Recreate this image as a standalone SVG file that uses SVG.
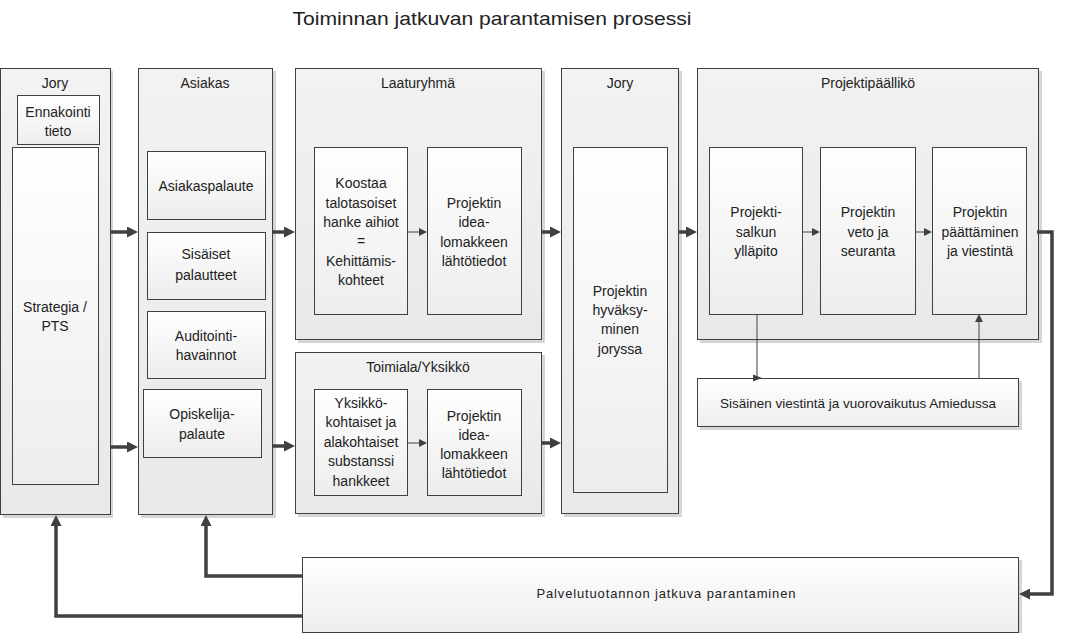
<svg xmlns="http://www.w3.org/2000/svg" width="1065" height="633" viewBox="0 0 1065 633">
<defs>
<linearGradient id="gBox" x1="0" y1="0" x2="0" y2="1">
<stop offset="0" stop-color="#ffffff"/>
<stop offset="1" stop-color="#ededed"/>
</linearGradient>
<linearGradient id="gLane" x1="0" y1="0" x2="0" y2="1">
<stop offset="0" stop-color="#f2f2f2"/>
<stop offset="1" stop-color="#e9e9e9"/>
</linearGradient>
<marker id="mThick" markerUnits="userSpaceOnUse" markerWidth="11" markerHeight="11" refX="0" refY="5.5" orient="auto" viewBox="0 0 11 11">
<path d="M0,0 L11,5.5 L0,11 z" fill="#404040"/>
</marker>
<marker id="mThin" markerUnits="userSpaceOnUse" markerWidth="8" markerHeight="8" refX="0" refY="4" orient="auto" viewBox="0 0 8 8">
<path d="M0,0 L8,4 L0,8 z" fill="#404040"/>
</marker>
</defs>
<style>
.lane{fill:url(#gLane);stroke:#404040;stroke-width:1}
.box{fill:url(#gBox);stroke:#404040;stroke-width:1}
.sh{fill:#d6d6d6}
text{font-family:"Liberation Sans",Arial,sans-serif;font-size:14px;fill:#222;text-anchor:middle}
.title{font-size:19px}
.thick{fill:none;stroke:#404040;stroke-width:3.5}
.thin{fill:none;stroke:#404040;stroke-width:1}
</style>
<rect width="1065" height="633" fill="#ffffff"/>
<text class="title" x="492" y="25" textLength="399" lengthAdjust="spacingAndGlyphs">Toiminnan jatkuvan parantamisen prosessi</text>

<g id="lane-jory1">
<rect class="sh" x="3" y="71" width="110" height="447"/>
<rect class="lane" x="0.5" y="68.5" width="110" height="446"/>
<text x="55" y="88">Jory</text>
</g>
<g id="ennakointi">
<rect class="box" x="17.5" y="95.5" width="82" height="49"/>
<text x="58" y="117">Ennakointi</text>
<text x="58" y="136">tieto</text>
</g>
<g id="strategia">
<rect class="box" x="12.5" y="147.5" width="86" height="337"/>
<text x="55" y="312">Strategia /</text>
<text x="55" y="331">PTS</text>
</g>

<g id="lane-asiakas">
<rect class="sh" x="141" y="71" width="135" height="447"/>
<rect class="lane" x="138.5" y="68.5" width="134" height="446"/>
<text x="205" y="88">Asiakas</text>
</g>
<g id="asiakaspalaute">
<rect class="box" x="147.5" y="151.5" width="118" height="68"/>
<text x="206" y="191">Asiakaspalaute</text>
</g>
<g id="sisaiset">
<rect class="box" x="147.5" y="232.5" width="118" height="67"/>
<text x="206" y="259">Sisäiset</text>
<text x="206" y="280">palautteet</text>
</g>
<g id="auditointi">
<rect class="box" x="147.5" y="311.5" width="118" height="67"/>
<text x="206" y="341">Auditointi-</text>
<text x="206" y="360">havainnot</text>
</g>
<g id="opiskelija">
<rect class="box" x="143.5" y="389.5" width="118" height="68"/>
<text x="202" y="419">Opiskelija-</text>
<text x="202" y="439">palaute</text>
</g>

<g id="lane-laaturyhma">
<rect class="sh" x="298" y="71" width="247" height="272"/>
<rect class="lane" x="295.5" y="68.5" width="246" height="271"/>
<text x="418" y="88">Laaturyhmä</text>
</g>
<g id="koostaa">
<rect class="box" x="314.5" y="147.5" width="93" height="167"/>
<text x="361" y="188">Koostaa</text>
<text x="361" y="208">talotasoiset</text>
<text x="361" y="227">hanke aihiot</text>
<text x="361" y="246">=</text>
<text x="361" y="266">Kehittämis-</text>
<text x="361" y="285">kohteet</text>
</g>
<g id="idea1">
<rect class="box" x="427.5" y="147.5" width="94" height="167"/>
<text x="474" y="208">Projektin</text>
<text x="474" y="227">idea-</text>
<text x="474" y="247">lomakkeen</text>
<text x="474" y="266">lähtötiedot</text>
</g>

<g id="lane-toimiala">
<rect class="sh" x="298" y="355" width="247" height="162"/>
<rect class="lane" x="295.5" y="352.5" width="246" height="161"/>
<text x="418" y="372">Toimiala/Yksikkö</text>
</g>
<g id="yksikko">
<rect class="box" x="314.5" y="389.5" width="93" height="106"/>
<text x="361" y="408">Yksikkö-</text>
<text x="361" y="427">kohtaiset ja</text>
<text x="361" y="447">alakohtaiset</text>
<text x="361" y="466">substanssi</text>
<text x="361" y="486">hankkeet</text>
</g>
<g id="idea2">
<rect class="box" x="427.5" y="389.5" width="94" height="106"/>
<text x="474" y="421">Projektin</text>
<text x="474" y="440">idea-</text>
<text x="474" y="459">lomakkeen</text>
<text x="474" y="478">lähtötiedot</text>
</g>

<g id="lane-jory2">
<rect class="sh" x="564" y="71" width="118" height="446"/>
<rect class="lane" x="561.5" y="68.5" width="117" height="445"/>
<text x="620" y="88">Jory</text>
</g>
<g id="hyvaksyminen">
<rect class="box" x="573.5" y="147.5" width="94" height="345"/>
<text x="620" y="296">Projektin</text>
<text x="620" y="315">hyväksy-</text>
<text x="620" y="334">minen</text>
<text x="620" y="354">joryssa</text>
</g>

<g id="lane-projektipaallikko">
<rect class="sh" x="700" y="71" width="342" height="272"/>
<rect class="lane" x="697.5" y="68.5" width="341" height="271"/>
<text x="868" y="88">Projektipäällikö</text>
</g>
<g id="salkku">
<rect class="box" x="709.5" y="147.5" width="93" height="167"/>
<text x="756" y="217">Projekti-</text>
<text x="756" y="237">salkun</text>
<text x="756" y="256">ylläpito</text>
</g>
<g id="veto">
<rect class="box" x="820.5" y="147.5" width="95" height="167"/>
<text x="868" y="217">Projektin</text>
<text x="868" y="237">veto ja</text>
<text x="868" y="256">seuranta</text>
</g>
<g id="paattaminen">
<rect class="box" x="932.5" y="147.5" width="94" height="167"/>
<text x="980" y="217">Projektin</text>
<text x="980" y="237">päättäminen</text>
<text x="980" y="256">ja viestintä</text>
</g>

<g id="sisainen-viestinta">
<rect class="sh" x="700" y="381" width="322" height="49"/>
<rect class="box" x="697.5" y="378.5" width="321" height="48"/>
<text x="858" y="408" style="font-size:13.5px">Sisäinen viestintä ja vuorovaikutus Amiedussa</text>
</g>

<g id="palvelutuotanto">
<rect class="sh" x="305" y="560" width="717" height="76"/>
<rect class="box" x="302.5" y="557.5" width="716" height="75"/>
<text x="666" y="598" style="font-size:13px" textLength="259" lengthAdjust="spacing">Palvelutuotannon jatkuva parantaminen</text>
</g>

<g id="connectors">
<path class="thick" d="M110,232 H127" marker-end="url(#mThick)"/>
<path class="thick" d="M110,447 H127" marker-end="url(#mThick)"/>
<path class="thick" d="M273,232 H284" marker-end="url(#mThick)"/>
<path class="thick" d="M273,446 H284" marker-end="url(#mThick)"/>
<path class="thick" d="M542,232 H550" marker-end="url(#mThick)"/>
<path class="thick" d="M542,443 H550" marker-end="url(#mThick)"/>
<path class="thick" d="M679,232 H686" marker-end="url(#mThick)"/>
<path class="thin" d="M408,232 H419" marker-end="url(#mThin)"/>
<path class="thin" d="M408,443 H419" marker-end="url(#mThin)"/>
<path class="thin" d="M803,232 H812" marker-end="url(#mThin)"/>
<path class="thin" d="M916,232 H924" marker-end="url(#mThin)"/>
<path class="thin" d="M757,315 V378"/>
<path d="M753,374.5 L762,378 L753,381.5 z" fill="#404040"/>
<path class="thin" d="M979,378 V322" marker-end="url(#mThin)"/>
<path class="thick" d="M1037,232 H1052 V594 H1030" marker-end="url(#mThick)"/>
<path class="thick" d="M302,576 H206 V526" marker-end="url(#mThick)"/>
<path class="thick" d="M302,616 H56 V526" marker-end="url(#mThick)"/>
</g>
</svg>
